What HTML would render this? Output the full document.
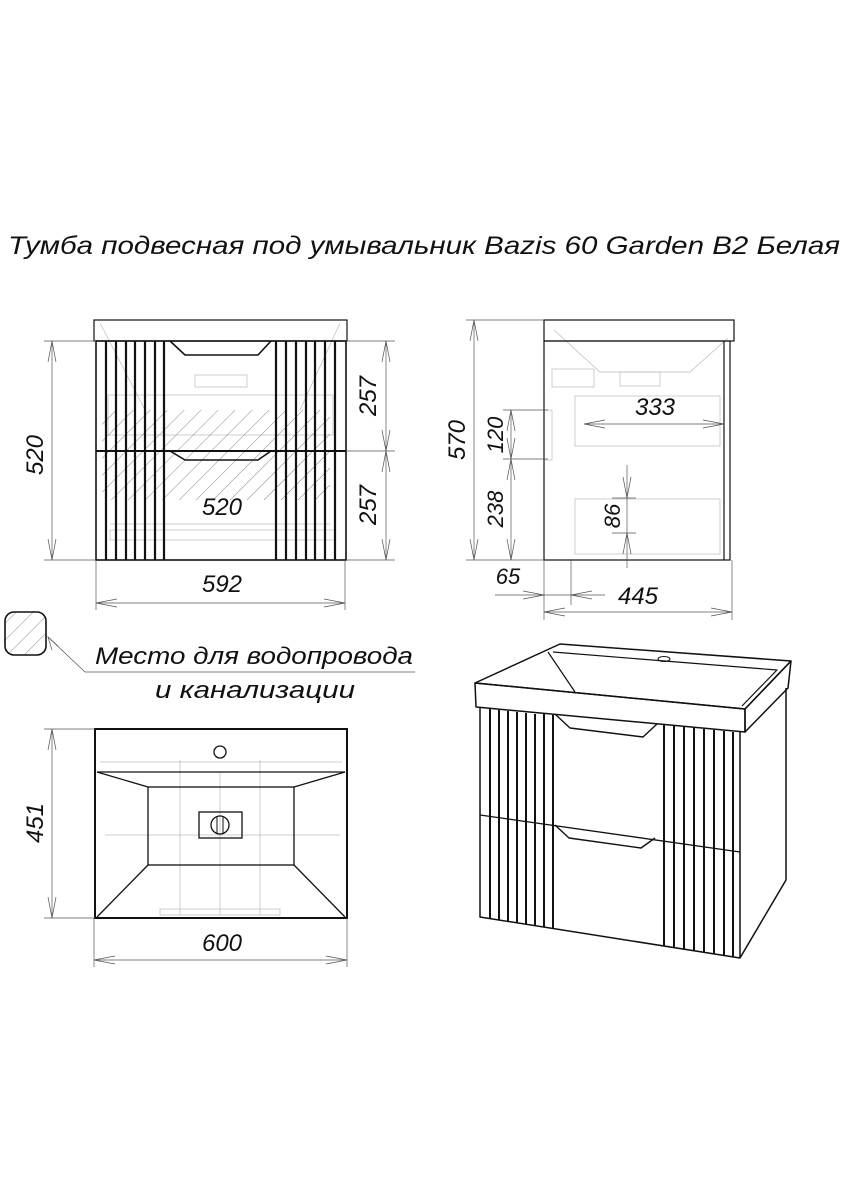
<!DOCTYPE html>
<html><head><meta charset="utf-8"><style>
html,body{margin:0;padding:0;background:#fff;}
svg{display:block;}
text{font-family:"Liberation Sans","DejaVu Sans",sans-serif;font-style:italic;fill:#111;}
</style></head><body>
<svg width="848" height="1200" viewBox="0 0 848 1200" xmlns="http://www.w3.org/2000/svg">
<defs>
<pattern id="h" width="12" height="12" patternUnits="userSpaceOnUse" patternTransform="rotate(45)">
<line x1="0" y1="0" x2="0" y2="12" stroke="#666" stroke-width="0.8"/></pattern>
<clipPath id="lg"><rect x="5" y="612" width="41" height="43" rx="9"/></clipPath>
</defs>

<text x="8" y="254" font-size="25" textLength="832" lengthAdjust="spacingAndGlyphs" style="font-weight:300">Тумба подвесная под умывальник Bazis 60 Garden B2 Белая</text>

<!-- FRONT VIEW -->
<g fill="none" stroke="#bbb" stroke-width="0.7">
<polyline points="100,323 145,410"/><polyline points="340,323 300,410"/>
<rect x="195" y="375" width="52" height="12"/>
<rect x="108" y="395" width="225" height="40"/>
<line x1="110" y1="524" x2="330" y2="524"/>
<rect x="110" y="530" width="225" height="10"/>
</g>
<rect x="102" y="410" width="228" height="90" fill="url(#h)"/>
<g fill="none" stroke="#111">
<rect x="94" y="320" width="253" height="21" stroke-width="1.2"/>
<rect x="96" y="341" width="250" height="219" stroke-width="1.6"/>
<line x1="96" y1="451" x2="346" y2="451" stroke-width="2"/>
<polyline points="170,341 185,355 258,355 271,341" stroke-width="1.6"/>
<polyline points="170,451 185,460 258,460 271,451" stroke-width="1.6"/>
</g>
<g stroke="#111" stroke-width="2.2">
<line x1="106" y1="341" x2="106" y2="560"/><line x1="116" y1="341" x2="116" y2="560"/>
<line x1="126" y1="341" x2="126" y2="560"/><line x1="135" y1="341" x2="135" y2="560"/>
<line x1="145" y1="341" x2="145" y2="560"/><line x1="155" y1="341" x2="155" y2="560"/>
<line x1="164" y1="341" x2="164" y2="560"/>
<line x1="276" y1="341" x2="276" y2="560"/><line x1="286" y1="341" x2="286" y2="560"/>
<line x1="296" y1="341" x2="296" y2="560"/><line x1="306" y1="341" x2="306" y2="560"/>
<line x1="315" y1="341" x2="315" y2="560"/><line x1="325" y1="341" x2="325" y2="560"/>
<line x1="335" y1="341" x2="335" y2="560"/>
</g>
<!-- dims front -->
<g stroke="#555" stroke-width="0.7" fill="none">
<line x1="44" y1="341" x2="96" y2="341"/><line x1="44" y1="560" x2="96" y2="560"/>
<line x1="52" y1="341" x2="52" y2="560"/>
<polyline points="48,362 52,341 56,362"/><polyline points="48,539 52,560 56,539"/>
<line x1="346" y1="341" x2="395" y2="341"/><line x1="346" y1="451" x2="395" y2="451"/><line x1="346" y1="560" x2="395" y2="560"/>
<line x1="386" y1="341" x2="386" y2="560"/>
<polyline points="382,362 386,341 390,362"/><polyline points="382,430 386,451 390,430"/>
<polyline points="382,472 386,451 390,472"/><polyline points="382,539 386,560 390,539"/>
<line x1="96" y1="560" x2="96" y2="610"/><line x1="345" y1="560" x2="345" y2="610"/>
<line x1="96" y1="603" x2="345" y2="603"/>
<polyline points="117,599 96,603 117,607"/><polyline points="324,599 345,603 324,607"/>
</g>
<text font-size="24" transform="translate(43,455) rotate(-90)" text-anchor="middle">520</text>
<text font-size="24" transform="translate(376,396) rotate(-90)" text-anchor="middle">257</text>
<text font-size="24" transform="translate(376,505) rotate(-90)" text-anchor="middle">257</text>
<text font-size="24" x="222" y="515" text-anchor="middle">520</text>
<text font-size="24" x="222" y="592" text-anchor="middle">592</text>

<!-- SIDE VIEW -->
<g fill="none" stroke="#bbb" stroke-width="0.7">
<polyline points="554,330 600,372 690,372 728,338"/>
<rect x="552" y="369" width="42" height="18"/>
<rect x="620" y="372" width="40" height="14"/>
<rect x="575" y="396" width="145" height="50"/>
<rect x="575" y="499" width="145" height="55"/>
<rect x="544" y="410" width="8" height="50"/>
</g>
<g fill="none" stroke="#111">
<rect x="544" y="320" width="190" height="21" stroke-width="1.2"/>
<rect x="544" y="341" width="186" height="219" stroke-width="1.2"/>
<line x1="724" y1="341" x2="724" y2="560" stroke-width="1.2"/>
</g>
<g stroke="#555" stroke-width="0.7" fill="none">
<line x1="466" y1="320" x2="544" y2="320"/><line x1="466" y1="560" x2="544" y2="560"/>
<line x1="474" y1="320" x2="474" y2="560"/>
<polyline points="470,341 474,320 478,341"/><polyline points="470,539 474,560 478,539"/>
<line x1="503" y1="410" x2="548" y2="410"/><line x1="503" y1="459" x2="548" y2="459"/>
<line x1="511" y1="410" x2="511" y2="560"/>
<polyline points="507,431 511,410 515,431"/><polyline points="507,438 511,459 515,438"/>
<polyline points="507,480 511,459 515,480"/><polyline points="507,539 511,560 515,539"/>
<line x1="584" y1="424" x2="724" y2="424"/>
<polyline points="605,420 584,424 605,428"/><polyline points="703,420 724,424 703,428"/>
<line x1="627" y1="465" x2="627" y2="568"/>
<line x1="612" y1="498" x2="636" y2="498"/><line x1="612" y1="533" x2="636" y2="533"/>
<polyline points="623,477 627,498 631,477"/><polyline points="623,554 627,533 631,554"/>
<line x1="544" y1="560" x2="544" y2="620"/><line x1="571" y1="560" x2="571" y2="605"/><line x1="732" y1="560" x2="732" y2="620"/>
<line x1="495" y1="595" x2="605" y2="595"/>
<polyline points="523,591 544,595 523,599"/><polyline points="592,591 571,595 592,599"/>
<line x1="544" y1="612" x2="732" y2="612"/>
<polyline points="565,608 544,612 565,616"/><polyline points="711,608 732,612 711,616"/>
</g>
<text font-size="24" transform="translate(465,440) rotate(-90)" text-anchor="middle">570</text>
<text font-size="22" transform="translate(503,435) rotate(-90)" text-anchor="middle">120</text>
<text font-size="22" transform="translate(503,509) rotate(-90)" text-anchor="middle">238</text>
<text font-size="22" transform="translate(620,516) rotate(-90)" text-anchor="middle">86</text>
<text font-size="24" x="655" y="415" text-anchor="middle">333</text>
<text font-size="22" x="508" y="584" text-anchor="middle">65</text>
<text font-size="24" x="638" y="604" text-anchor="middle">445</text>

<!-- LEGEND -->
<rect x="5" y="612" width="41" height="43" rx="9" fill="url(#h)" clip-path="url(#lg)"/>
<rect x="5" y="612" width="41" height="43" rx="9" fill="none" stroke="#111" stroke-width="1.6"/>
<g stroke="#555" stroke-width="0.7" fill="none">
<polyline points="48,637 85,672 415,672"/>
<polyline points="52,650 48,637 58,646"/>
</g>
<text font-size="24" x="95" y="664" textLength="318" lengthAdjust="spacingAndGlyphs">Место для водопровода</text>
<text font-size="24" x="155" y="698" textLength="200" lengthAdjust="spacingAndGlyphs">и канализации</text>

<!-- TOP VIEW -->
<g fill="none" stroke="#bbb" stroke-width="0.7">
<line x1="100" y1="762" x2="342" y2="762"/>
<line x1="220" y1="772" x2="220" y2="915"/>
<line x1="180" y1="760" x2="180" y2="915"/><line x1="260" y1="760" x2="260" y2="915"/>
<line x1="105" y1="835" x2="340" y2="835"/>
<rect x="160" y="909" width="120" height="6"/>
</g>
<g fill="none" stroke="#111">
<rect x="95" y="729" width="252" height="189" stroke-width="2"/>
<line x1="97" y1="772" x2="345" y2="772" stroke-width="1.3"/>
<rect x="148" y="787" width="146" height="78" stroke-width="1.3"/>
<line x1="97" y1="772" x2="148" y2="787" stroke-width="1.3"/>
<line x1="345" y1="772" x2="294" y2="787" stroke-width="1.3"/>
<line x1="97" y1="917" x2="148" y2="865" stroke-width="1.3"/>
<line x1="345" y1="917" x2="294" y2="865" stroke-width="1.3"/>
<circle cx="220" cy="752" r="6" stroke-width="1.3"/>
<rect x="199" y="812" width="43" height="26" stroke-width="1.3"/>
<circle cx="220" cy="825" r="9" stroke-width="1.3"/>
<line x1="217" y1="817" x2="217" y2="833"/><line x1="223" y1="817" x2="223" y2="833"/>
</g>
<g stroke="#555" stroke-width="0.7" fill="none">
<line x1="44" y1="729" x2="95" y2="729"/><line x1="44" y1="918" x2="95" y2="918"/>
<line x1="52" y1="729" x2="52" y2="918"/>
<polyline points="48,750 52,729 56,750"/><polyline points="48,897 52,918 56,897"/>
<line x1="94" y1="918" x2="94" y2="967"/><line x1="347" y1="918" x2="347" y2="967"/>
<line x1="94" y1="960" x2="347" y2="960"/>
<polyline points="115,956 94,960 115,964"/><polyline points="326,956 347,960 326,964"/>
</g>
<text font-size="24" transform="translate(43,823) rotate(-90)" text-anchor="middle">451</text>
<text font-size="24" x="222" y="951" text-anchor="middle">600</text>

<!-- ISO VIEW -->
<g fill="none" stroke="#111" stroke-width="1.5" stroke-linejoin="round">
<polygon points="560,644 791,661 745,709 475,683"/>
<polygon points="475,683 745,709 745,732 476,707"/>
<polygon points="745,709 791,661 788,688 745,732"/>
<polyline points="548,652 575,692" stroke-width="1.2"/>
<polyline points="553,652 777,670 742,706" stroke-width="1.2"/>
<ellipse cx="664" cy="659" rx="6" ry="2.5" stroke-width="1"/>
<polyline points="480,707 480,917 740,958 786,880 786,688"/>
<line x1="740" y1="732" x2="740" y2="958"/>
<line x1="480" y1="815" x2="740" y2="852" stroke-width="1.3"/>
<polyline points="555,714 570,728 643,737 657,724" stroke-width="1.4"/>
<polyline points="555,825 569,838 641,848 655,838" stroke-width="1.4"/>
</g>
<g stroke="#111" stroke-width="2">
<line x1="490" y1="709" x2="490" y2="918"/><line x1="499" y1="710" x2="499" y2="920"/>
<line x1="508" y1="711" x2="508" y2="921"/><line x1="517" y1="712" x2="517" y2="923"/>
<line x1="526" y1="713" x2="526" y2="924"/><line x1="535" y1="714" x2="535" y2="926"/>
<line x1="544" y1="714" x2="544" y2="927"/><line x1="553" y1="715" x2="553" y2="928"/>
<line x1="664" y1="725" x2="664" y2="946"/><line x1="674" y1="726" x2="674" y2="948"/>
<line x1="684" y1="727" x2="684" y2="949"/><line x1="694" y1="728" x2="694" y2="951"/>
<line x1="704" y1="729" x2="704" y2="952"/><line x1="714" y1="730" x2="714" y2="954"/>
<line x1="724" y1="731" x2="724" y2="955"/><line x1="733" y1="732" x2="733" y2="957"/>
</g>
</svg>
</body></html>
